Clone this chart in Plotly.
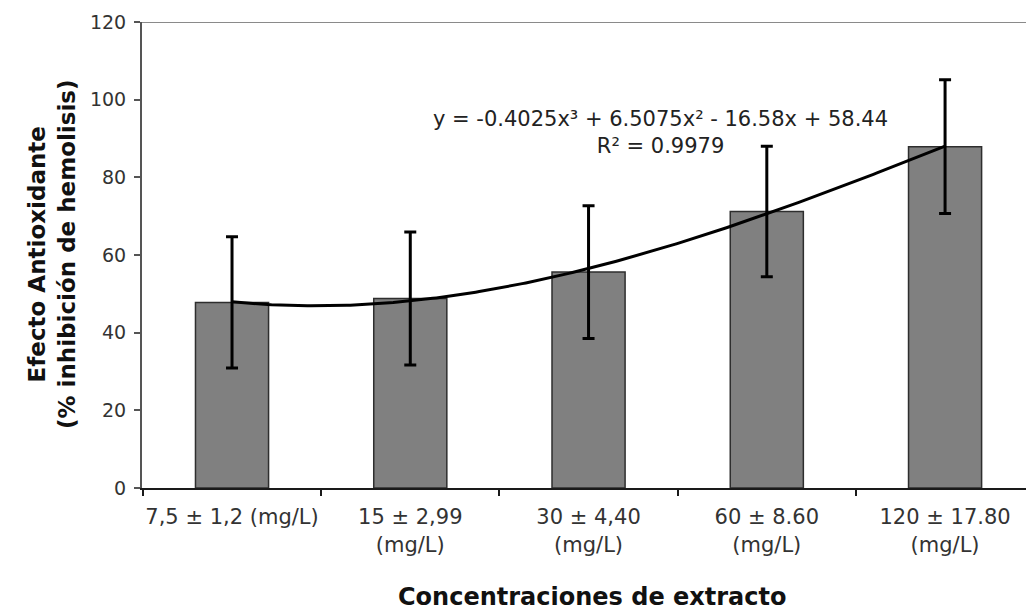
import numpy as np
import plotly.graph_objects as go

categories = ["7,5 ± 1,2 (mg/L)", "15 ± 2,99<br>(mg/L)", "30 ± 4,40<br>(mg/L)",
              "60 ± 8.60<br>(mg/L)", "120 ± 17.80<br>(mg/L)"]
values = [47.8, 48.8, 55.6, 71.2, 87.9]
errors = [16.9, 17.1, 17.1, 16.8, 17.2]
y_ticks = [0, 20, 40, 60, 80, 100, 120]
equation = "y = -0.4025x³ + 6.5075x² - 16.58x + 58.44"
r2_text = "R² = 0.9979"
x_title = "Concentraciones de extracto"
y_title = "Efecto Antioxidante<br>(% inhibición de hemolisis)"

W, H = 1026, 612
L, R, T, B = 142, 0, 22, 124
pw, ph = W - L - R, H - T - B

def px_x(p):
    return (p - L) / pw

def px_y(p):
    return (H - B - p) / ph

xr = [-0.505, 4.454]

# cubic trendline fitted to the bar values (Excel-style, x = 1..n)
xn = np.arange(1, len(values) + 1)
coef = np.polyfit(xn, values, 3)
xs = np.linspace(1, len(values), 200)
ys = np.polyval(coef, xs)

font = "DejaVu Sans"
fig = go.Figure()
fig.add_trace(go.Bar(
    x=categories, y=values, width=0.41,
    marker=dict(color="#808080", line=dict(color="#2e2e2e", width=1.5)),
    error_y=dict(type="data", array=errors, visible=True, color="#000000",
                 thickness=3, width=6),
    showlegend=False, hoverinfo="skip"))
fig.add_trace(go.Scatter(
    x=xs, y=ys, xaxis="x2", mode="lines",
    line=dict(color="#000000", width=3), showlegend=False, hoverinfo="skip"))

fig.update_layout(
    width=W, height=H,
    margin=dict(l=L, r=R, t=T, b=B, autoexpand=False),
    paper_bgcolor="white", plot_bgcolor="white",
    bargap=0.59,
    xaxis=dict(type="category", range=xr, showline=True, linecolor="#1a1a1a",
               linewidth=2, ticks="outside", tickson="boundaries", ticklen=6,
               tickcolor="#1a1a1a", tickwidth=1.5, showgrid=False, zeroline=False,
               tickangle=0, automargin=False, ticklabelstandoff=9, mirror=False,
               tickfont=dict(family=font, size=21, color="#333333")),
    xaxis2=dict(overlaying="x", range=[xr[0] + 1, xr[1] + 1], visible=False,
                showline=False, showgrid=False, zeroline=False, automargin=False),
    yaxis=dict(range=[0, 120], tickvals=y_ticks, showline=True, linecolor="#555555",
               linewidth=2, ticks="outside", ticklen=6, tickcolor="#555555",
               tickwidth=1.5, showgrid=False, zeroline=False, ticklabelstandoff=4,
               automargin=False, mirror=False,
               tickfont=dict(family=font, size=19, color="#333333")),
    shapes=[dict(type="line", xref="paper", yref="y", x0=0, x1=1, y0=120, y1=120,
                 line=dict(color="#8a8a8a", width=2))],
    annotations=[
        dict(text=equation + "<br>" + r2_text, xref="paper", yref="paper",
             x=px_x(660), y=px_y(132), xanchor="center", yanchor="middle",
             showarrow=False, font=dict(family=font, size=21, color="#222222")),
        dict(text="<b>" + x_title + "</b>", xref="paper", yref="paper",
             x=px_x(592), y=px_y(597), xanchor="center", yanchor="middle",
             showarrow=False, font=dict(family=font, size=24, color="#111111")),
        dict(text="<b>" + y_title + "</b>", xref="paper", yref="paper",
             x=px_x(52), y=px_y(255), xanchor="center", yanchor="middle",
             textangle=-90, showarrow=False,
             font=dict(family=font, size=23, color="#111111")),
    ],
)
fig.write_html("out.html", config={"displayModeBar": False},
               post_script="document.body.style.margin='0';"
                           "document.body.style.overflow='hidden';")
